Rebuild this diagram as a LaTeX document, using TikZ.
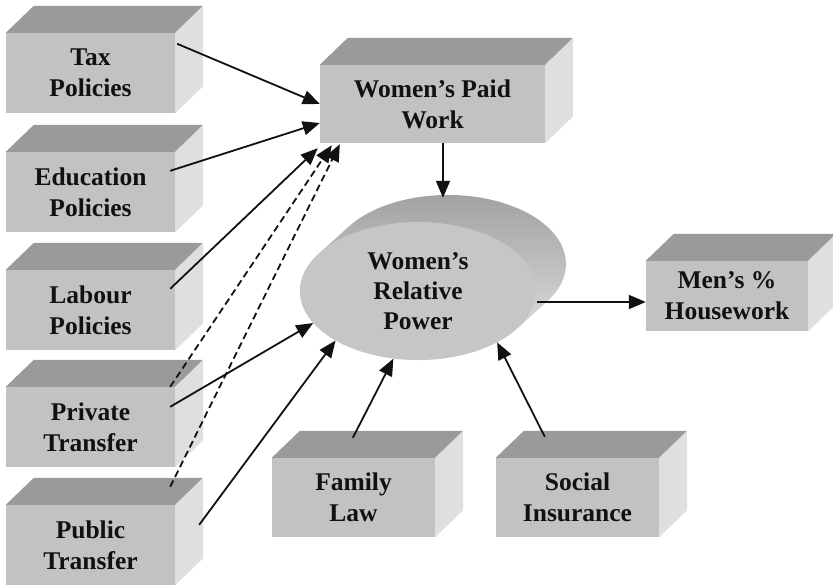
\documentclass[tikz,border=0pt]{standalone}
\usepackage{fontspec}
\setmainfont{Liberation Serif}
\usetikzlibrary{arrows.meta,calc,shapes.geometric}
\definecolor{frontgray}{HTML}{C2C2C2}
\definecolor{topgray}{HTML}{9A9A9A}
\definecolor{sidegray}{HTML}{DFDFDF}
\definecolor{ellgray}{HTML}{C6C6C6}
\definecolor{cyldark}{HTML}{9E9E9E}
\definecolor{cyllight}{HTML}{EAEAEA}
\definecolor{inkgray}{HTML}{111111}
\newcommand\cubebox[6]{%
  \node[face, minimum width=#4pt, minimum height=#5pt] (#1) at (#2,#3) {#6};
  \fill[topgray] (#1.north west) -- ++(28,-27) -- ($(#1.north east)+(28,-27)$) -- (#1.north east) -- cycle;
  \fill[sidegray] (#1.north east) -- ++(28,-27) -- ($(#1.south east)+(28,-27)$) -- (#1.south east) -- cycle;
}
\begin{document}
\begin{tikzpicture}[x=1pt,y=-1pt,
  face/.style={fill=frontgray, inner sep=0pt, align=center,
    font=\fontsize{25.5}{31}\selectfont\bfseries, text=inkgray},
  arr/.style={line width=1.8pt, draw=inkgray, -{Triangle[length=17pt,width=14pt]}},
  dsh/.style={arr, dash pattern=on 7pt off 4pt}]
\useasboundingbox (0,0) rectangle (833,586);
\clip (0,0) rectangle (833,586);
% boxes
\cubebox{tax}{90.5}{73}{169}{80}{Tax\\Policies}
\cubebox{edu}{90.5}{192}{169}{80}{Education\\Policies}
\cubebox{lab}{90.5}{310}{169}{80}{Labour\\Policies}
\cubebox{priv}{90.5}{427}{169}{80}{Private\\Transfer}
\cubebox{pub}{90.5}{545}{169}{80}{Public\\Transfer}
\cubebox{wpw}{432.5}{104}{225}{78}{Women’s Paid\\Work}
\cubebox{men}{727}{296}{162}{70}{Men’s \%\\Housework}
\cubebox{fam}{353.5}{497.5}{163}{79}{Family\\Law}
\cubebox{soc}{577.5}{497.5}{163}{79}{Social\\Insurance}
% cylinder body
\shade[top color=cyldark, bottom color=cyllight]
  (349,226.4) arc[start angle=213, end angle=393, x radius=118, y radius=69]
  -- (517,328.6) arc[start angle=33, end angle=213, x radius=118, y radius=69] -- cycle;
\node[ellipse, fill=ellgray, minimum width=236pt, minimum height=138pt, inner sep=0pt,
  align=center, font=\fontsize{25.5}{30}\selectfont\bfseries, text=inkgray]
  (power) at (418,291) {Women’s\\Relative\\Power};
% connectors
\draw[arr] ($(tax.north east)+(2,11)$) -- (wpw.west);
\draw[arr] ($(edu.north east)+(-5,19)$) -- ($(wpw.west)+(0,19)$);
\draw[arr] ($(lab.north east)+(-5,19)$) -- ($(wpw.south west)+(-2,5)$);
\draw[dsh] ($(priv.north east)+(-5,0)$) -- ($(wpw.south west)+(12,2)$);
\draw[dsh] ($(pub.north east)+(-5,-18)$) -- ($(wpw.south west)+(20,1)$);
\draw[arr] ($(priv.north east)+(-5,20)$) -- (power.197);
\draw[arr] ($(pub.north east)+(24,20)$) -- (power.211);
\draw[arr] ($(fam.north west)+(81,-20)$) -- (power.250);
\draw[arr] ($(soc.north west)+(49,-21)$) -- (power.327);
\draw[arr] ($(wpw.south)+(10.5,0)$) -- ($(power.north)+(25,-24)$);
\draw[arr] ($(power.east)+(1,11)$) -- ($(men.west)+(0,6)$);
\end{tikzpicture}
\end{document}
